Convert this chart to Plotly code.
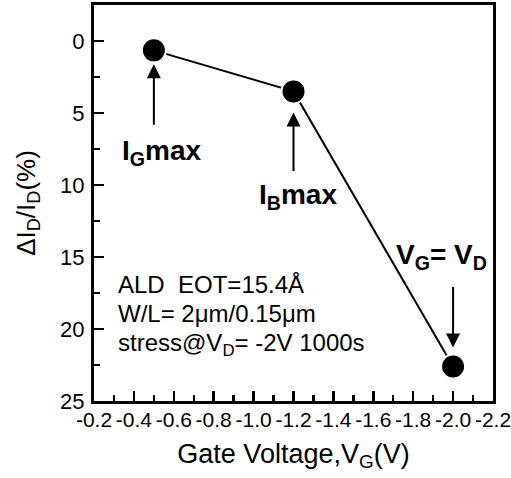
import plotly.graph_objects as go

# ---- data ----
gate_voltage = [-0.5, -1.2, -2.0]
delta_id_pct = [0.65, 3.5, 22.6]
point_labels = ["I<sub>G</sub>max", "I<sub>B</sub>max", "V<sub>G</sub>= V<sub>D</sub>"]
x_tick_vals = [-0.2, -0.4, -0.6, -0.8, -1.0, -1.2, -1.4, -1.6, -1.8, -2.0, -2.2]
x_tick_text = ["-0.2", "-0.4", "-0.6", "-0.8", "-1.0", "-1.2", "-1.4", "-1.6", "-1.8", "-2.0", "-2.2"]
y_tick_vals = [0, 5, 10, 15, 20, 25]
y_tick_text = ["0", "5", "10", "15", "20", "25"]
info_lines = ["ALD\u00a0 EOT=15.4\u00c5", "W/L= 2\u03bcm/0.15\u03bcm", "stress@V<sub>D</sub>= -2V 1000s"]

FONT = "Liberation Sans, Arial, sans-serif"

fig = go.Figure()
fig.add_trace(go.Scatter(
    x=gate_voltage, y=delta_id_pct, mode="lines+markers",
    line=dict(color="black", width=2),
    marker=dict(size=24, color="black", line=dict(color="white", width=2)),
    showlegend=False, cliponaxis=False, hoverinfo="skip",
))

# arrows (tail offset in px, standoff in px) and label offsets (px)
arrow_layout = [(76, 14), (81, 21), (-81, 19)]
label_offsets = [(8, -102), (4, -105), (-12, 110)]

for xv, yv, lab, (ay, so), (xs, ys) in zip(gate_voltage, delta_id_pct, point_labels,
                                             arrow_layout, label_offsets):
    fig.add_annotation(x=xv, y=yv, xref="x", yref="y", text="", showarrow=True,
                       ax=0, ay=ay, arrowhead=2, arrowsize=1.4, arrowwidth=2,
                       arrowcolor="black", standoff=so)
    fig.add_annotation(x=xv, y=yv, xref="x", yref="y", text="<b>" + lab + "</b>",
                       showarrow=False, xshift=xs, yshift=ys,
                       xanchor="center", yanchor="middle",
                       font=dict(family=FONT, size=28, color="black"))

info_y = [0.293, 0.222, 0.142]
for txt, yy in zip(info_lines, info_y):
    fig.add_annotation(x=0.055, y=yy, xref="paper", yref="paper", text=txt,
                       showarrow=False, xanchor="left", yanchor="middle",
                       font=dict(family=FONT, size=24, color="black"))

fig.update_layout(
    width=511, height=478,
    margin=dict(l=94, r=18, t=5, b=77),
    paper_bgcolor="white", plot_bgcolor="white",
    font=dict(family=FONT, color="black"),
    xaxis=dict(
        range=[-0.1999, -2.2001], automargin=False,
        tickmode="array", tickvals=x_tick_vals, ticktext=x_tick_text, tickangle=0,
        ticklabeloverflow="allow",
        ticks="inside", ticklen=10, tickwidth=2.5, tickcolor="black",
        minor=dict(ticks="inside", ticklen=6, tickwidth=2.5, tickcolor="black", dtick=0.1, tick0=0),
        showline=True, linewidth=3, linecolor="black", mirror=True,
        showgrid=False, zeroline=False,
        tickfont=dict(family=FONT, size=21, color="black"),
        ticklabelstandoff=-2,
        title=dict(text="Gate Voltage,V<sub>G</sub>(V)", font=dict(family=FONT, size=27), standoff=14),
    ),
    yaxis=dict(
        range=[25, -2.5], automargin=False,
        tickmode="array", tickvals=y_tick_vals, ticktext=y_tick_text,
        ticks="inside", ticklen=10, tickwidth=2.5, tickcolor="black",
        minor=dict(ticks="inside", ticklen=6, tickwidth=2.5, tickcolor="black", dtick=2.5, tick0=0),
        showline=True, linewidth=3, linecolor="black", mirror=True,
        showgrid=False, zeroline=False,
        tickfont=dict(family=FONT, size=22, color="black"),
        ticklabelstandoff=2,
        title=dict(text="\u0394I<sub>D</sub>/I<sub>D</sub>(%)", font=dict(family=FONT, size=26), standoff=18),
    ),
)

fig.write_html("out.html", config={"displayModeBar": False, "staticPlot": True},
               post_script="document.body.style.margin='0px';")
